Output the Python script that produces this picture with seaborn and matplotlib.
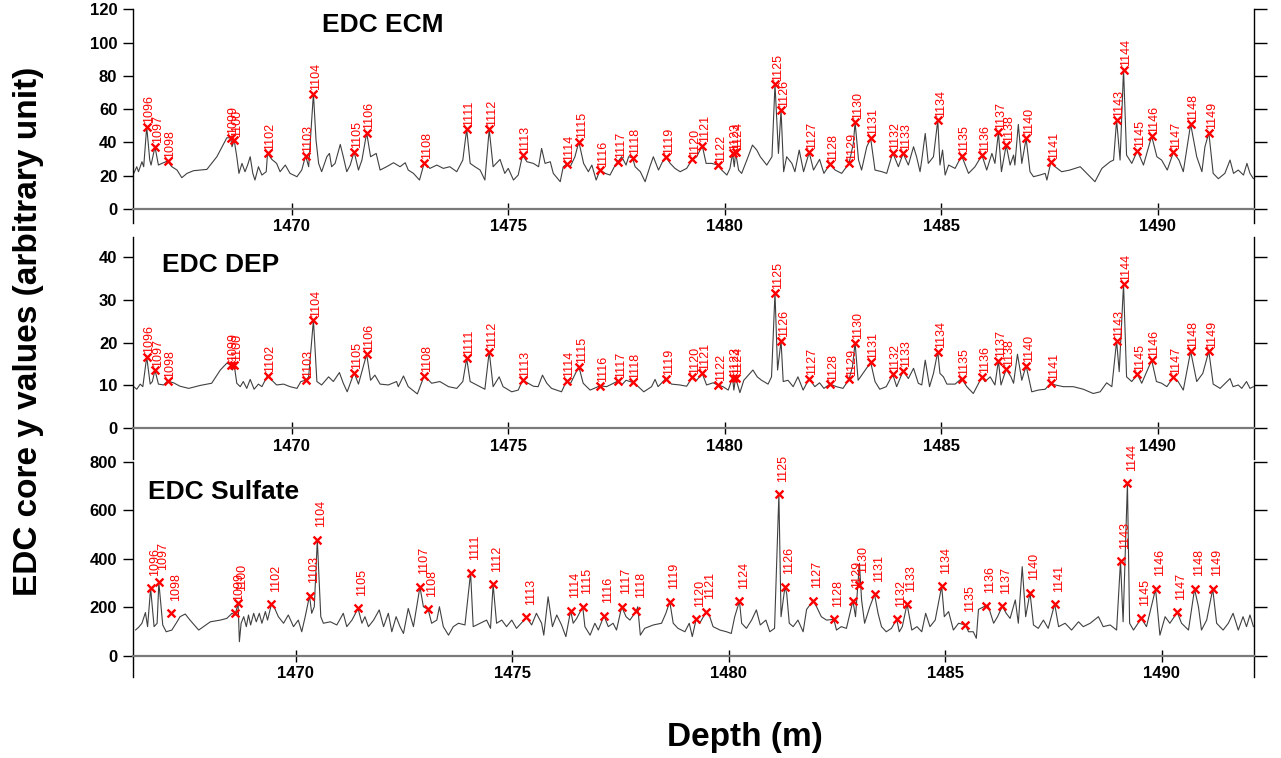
import numpy as np
import pandas as pd
import matplotlib
matplotlib.use('Agg')
import matplotlib.pyplot as plt
import seaborn as sns

nan = np.nan

# volcanic events picked in the three records (shared depths, m)
event_id = [1096, 1097, 1098, 1099, 1100, 1102, 1103, 1104, 1105, 1106,
            1107, 1108, 1111, 1112, 1113, 1114, 1115, 1116, 1117, 1118,
            1119, 1120, 1121, 1122, 1123, 1124, 1125, 1126, 1127, 1128,
            1129, 1130, 1131, 1132, 1133, 1134, 1135, 1136, 1137, 1138,
            1140, 1141, 1143, 1144, 1145, 1146, 1147, 1148, 1149]
event_depth = [1466.65, 1466.84, 1467.13, 1468.59, 1468.67, 1469.44, 1470.32, 1470.50, 1471.44, 1471.73,
               1472.87, 1473.06, 1474.04, 1474.56, 1475.33, 1476.35, 1476.63, 1477.12, 1477.53, 1477.87,
               1478.64, 1479.25, 1479.48, 1479.84, 1480.18, 1480.25, 1481.16, 1481.30, 1481.95, 1482.43,
               1482.87, 1483.01, 1483.37, 1483.88, 1484.12, 1484.92, 1485.47, 1485.94, 1486.32, 1486.50,
               1486.96, 1487.53, 1489.05, 1489.21, 1489.53, 1489.86, 1490.36, 1490.76, 1491.18]
ecm_peak = [49.4, 37.4, 28.8, 42.8, 41.4, 33.4, 32.0, 69.4, 34.4, 45.8,
            nan, 27.8, 48.0, 47.8, 32.4, 27.0, 40.4, 23.4, 28.4, 30.8,
            31.2, 29.8, 38.0, 26.4, 33.4, 34.0, 75.0, 59.4, 34.0, 27.0,
            27.4, 52.0, 42.4, 33.8, 33.4, 53.4, 32.0, 32.4, 46.0, 38.4,
            42.4, 28.0, 53.4, 83.8, 35.0, 43.8, 34.0, 51.0, 45.8]
dep_peak = [16.7, 13.6, 11.0, 14.8, 14.8, 12.3, 11.2, 25.3, 13.0, 17.3,
            nan, 12.3, 16.3, 17.9, 11.2, 11.1, 14.4, 9.9, 11.0, 10.7,
            11.6, 11.9, 12.8, 10.1, 11.8, 11.8, 31.7, 20.4, 11.6, 10.3,
            11.4, 20.0, 15.4, 12.6, 13.4, 17.9, 11.6, 12.0, 15.8, 13.8,
            14.6, 10.5, 20.4, 33.7, 12.6, 15.9, 11.9, 18.0, 18.0]
so4_peak = [279, 303, 176, 176, 217, 213, 248, 478, 196, nan,
            285, 192, 343, 295, 159, 187, 203, 166, 203, 187,
            224, 152, 182, nan, nan, 226, 666, 285, 228, 151,
            228, 292, 254, 152, 214, 288, 128, 207, 205, nan,
            261, 214, 391, 711, 155, 276, 180, 276, 276]

# EDC ECM trace
ecm_depth = [1466.35, 1466.42, 1466.46, 1466.54, 1466.58, 1466.65, 1466.72, 1466.75, 1466.84, 1466.92,
             1467.00, 1467.13, 1467.23, 1467.35, 1467.46, 1467.58, 1467.73, 1468.04, 1468.27, 1468.50,
             1468.59, 1468.62, 1468.67, 1468.73, 1468.78, 1468.85, 1468.92, 1468.98, 1469.04, 1469.10,
             1469.15, 1469.23, 1469.31, 1469.41, 1469.44, 1469.54, 1469.65, 1469.73, 1469.85, 1469.96,
             1470.12, 1470.23, 1470.32, 1470.39, 1470.50, 1470.56, 1470.62, 1470.69, 1470.81, 1470.87,
             1470.92, 1471.00, 1471.12, 1471.19, 1471.27, 1471.35, 1471.44, 1471.54, 1471.62, 1471.73,
             1471.82, 1471.95, 1472.04, 1472.19, 1472.35, 1472.50, 1472.62, 1472.69, 1472.81, 1472.95,
             1473.06, 1473.19, 1473.35, 1473.50, 1473.65, 1473.81, 1473.95, 1474.04, 1474.12, 1474.23,
             1474.35, 1474.46, 1474.56, 1474.65, 1474.81, 1474.92, 1475.00, 1475.12, 1475.23, 1475.33,
             1475.43, 1475.58, 1475.70, 1475.77, 1475.85, 1475.97, 1476.04, 1476.20, 1476.27, 1476.35,
             1476.43, 1476.54, 1476.63, 1476.74, 1476.85, 1476.93, 1477.03, 1477.12, 1477.24, 1477.35,
             1477.47, 1477.53, 1477.62, 1477.72, 1477.78, 1477.87, 1477.93, 1478.05, 1478.16, 1478.27,
             1478.35, 1478.47, 1478.58, 1478.64, 1478.74, 1478.85, 1478.97, 1479.12, 1479.25, 1479.35,
             1479.48, 1479.57, 1479.70, 1479.84, 1479.93, 1480.05, 1480.12, 1480.18, 1480.22, 1480.25,
             1480.32, 1480.39, 1480.51, 1480.64, 1480.74, 1480.82, 1480.97, 1481.09, 1481.16, 1481.24,
             1481.30, 1481.36, 1481.43, 1481.55, 1481.62, 1481.72, 1481.82, 1481.95, 1482.05, 1482.19,
             1482.29, 1482.43, 1482.55, 1482.70, 1482.87, 1482.97, 1483.01, 1483.09, 1483.16, 1483.28,
             1483.37, 1483.47, 1483.63, 1483.74, 1483.88, 1484.01, 1484.12, 1484.24, 1484.36, 1484.43,
             1484.51, 1484.55, 1484.63, 1484.70, 1484.82, 1484.92, 1484.97, 1485.03, 1485.09, 1485.17,
             1485.32, 1485.47, 1485.63, 1485.78, 1485.94, 1486.05, 1486.17, 1486.24, 1486.32, 1486.39,
             1486.50, 1486.59, 1486.67, 1486.70, 1486.78, 1486.86, 1486.96, 1487.05, 1487.13, 1487.28,
             1487.40, 1487.44, 1487.53, 1487.63, 1487.78, 1487.97, 1488.21, 1488.36, 1488.55, 1488.71,
             1488.90, 1488.98, 1489.05, 1489.13, 1489.21, 1489.28, 1489.40, 1489.53, 1489.67, 1489.86,
             1489.98, 1490.09, 1490.22, 1490.36, 1490.49, 1490.59, 1490.76, 1490.90, 1491.02, 1491.09,
             1491.18, 1491.28, 1491.40, 1491.55, 1491.67, 1491.75, 1491.86, 1491.98, 1492.06, 1492.13, 1492.21]
ecm_value = [21.4, 25.4, 22.4, 28.4, 25.4, 49.4, 29.4, 26.4, 37.4, 26.4,
             27.4, 28.8, 25.4, 23.4, 18.8, 21.4, 23.0, 23.8, 31.4, 42.8,
             42.8, 37.4, 41.4, 31.4, 21.4, 27.4, 22.4, 26.4, 31.4, 21.4,
             17.4, 25.4, 20.4, 22.4, 33.4, 29.8, 27.4, 22.4, 26.4, 21.4,
             19.4, 23.4, 32.0, 25.4, 69.4, 41.4, 27.4, 22.4, 31.4, 33.4,
             25.4, 27.4, 38.8, 31.4, 22.4, 26.4, 34.4, 23.4, 29.4, 45.8,
             31.4, 33.4, 23.4, 25.4, 27.8, 25.4, 27.8, 23.4, 21.4, 17.4,
             27.8, 24.4, 26.4, 24.4, 25.4, 22.4, 29.4, 48.0, 27.4, 25.4,
             23.4, 17.4, 47.8, 25.4, 29.8, 21.4, 24.4, 17.4, 20.4, 32.4,
             28.4, 27.4, 25.4, 36.4, 27.4, 28.4, 21.4, 16.4, 25.4, 27.0,
             25.4, 31.4, 40.4, 27.4, 22.4, 26.4, 17.4, 23.4, 21.4, 20.4,
             26.4, 28.4, 31.4, 26.4, 31.4, 30.8, 25.4, 22.4, 16.4, 25.4,
             31.4, 23.4, 29.4, 31.2, 27.4, 24.4, 22.4, 24.4, 29.8, 31.4,
             38.0, 27.4, 27.4, 26.4, 23.4, 20.4, 24.4, 33.4, 25.4, 34.0,
             23.4, 21.4, 29.4, 38.4, 35.4, 31.4, 26.4, 31.4, 75.0, 33.4,
             59.4, 22.4, 31.4, 27.4, 22.4, 35.4, 22.4, 34.0, 23.4, 29.8,
             21.4, 27.0, 23.4, 21.4, 27.4, 39.4, 52.0, 29.4, 23.4, 37.4,
             42.4, 23.4, 22.4, 21.4, 33.8, 25.4, 33.4, 26.4, 37.4, 31.4,
             22.4, 29.4, 45.4, 27.4, 31.4, 53.4, 26.4, 35.4, 20.4, 26.4,
             24.4, 32.0, 21.4, 25.4, 32.4, 23.4, 33.4, 27.4, 46.0, 22.4,
             38.4, 26.4, 32.4, 26.4, 50.8, 27.4, 42.4, 22.4, 19.4, 20.4,
             21.4, 17.4, 28.0, 25.4, 22.4, 23.4, 25.4, 21.4, 16.4, 24.4,
             28.4, 29.4, 53.4, 29.4, 83.8, 32.4, 27.4, 35.0, 26.4, 43.8,
             31.4, 29.4, 23.4, 34.0, 29.4, 22.4, 51.0, 31.4, 22.4, 37.4,
             45.8, 21.4, 18.2, 21.4, 29.4, 21.4, 23.4, 20.4, 27.4, 21.4, 18.2]

# EDC DEP trace
dep_depth = [1466.35, 1466.42, 1466.50, 1466.56, 1466.65, 1466.73, 1466.78, 1466.84, 1466.92, 1467.04,
             1467.13, 1467.27, 1467.42, 1467.62, 1467.89, 1468.15, 1468.35, 1468.50, 1468.59, 1468.63,
             1468.67, 1468.73, 1468.81, 1468.88, 1468.96, 1469.04, 1469.13, 1469.23, 1469.31, 1469.44,
             1469.54, 1469.65, 1469.81, 1469.96, 1470.12, 1470.21, 1470.32, 1470.39, 1470.50, 1470.58,
             1470.69, 1470.85, 1470.96, 1471.10, 1471.19, 1471.28, 1471.44, 1471.54, 1471.73, 1471.82,
             1471.92, 1472.04, 1472.23, 1472.42, 1472.46, 1472.58, 1472.69, 1472.90, 1473.06, 1473.23,
             1473.42, 1473.62, 1473.81, 1473.95, 1474.04, 1474.12, 1474.27, 1474.46, 1474.56, 1474.65,
             1474.79, 1474.88, 1475.08, 1475.23, 1475.33, 1475.46, 1475.58, 1475.69, 1475.79, 1475.89,
             1476.00, 1476.23, 1476.35, 1476.42, 1476.63, 1476.73, 1476.89, 1477.12, 1477.27, 1477.53,
             1477.62, 1477.72, 1477.87, 1477.96, 1478.13, 1478.31, 1478.39, 1478.46, 1478.64, 1478.77,
             1478.96, 1479.12, 1479.25, 1479.35, 1479.48, 1479.58, 1479.73, 1479.84, 1479.96, 1480.08,
             1480.18, 1480.21, 1480.25, 1480.35, 1480.44, 1480.58, 1480.65, 1480.75, 1480.85, 1481.00,
             1481.08, 1481.16, 1481.22, 1481.30, 1481.35, 1481.46, 1481.58, 1481.69, 1481.81, 1481.95,
             1482.08, 1482.19, 1482.29, 1482.43, 1482.58, 1482.73, 1482.87, 1482.95, 1483.01, 1483.08,
             1483.19, 1483.37, 1483.47, 1483.58, 1483.73, 1483.88, 1483.97, 1484.12, 1484.24, 1484.36,
             1484.47, 1484.55, 1484.63, 1484.73, 1484.82, 1484.92, 1484.97, 1485.05, 1485.13, 1485.32,
             1485.47, 1485.59, 1485.74, 1485.94, 1486.01, 1486.13, 1486.24, 1486.32, 1486.38, 1486.50,
             1486.61, 1486.67, 1486.76, 1486.86, 1486.96, 1487.09, 1487.24, 1487.40, 1487.53, 1487.63,
             1487.82, 1488.05, 1488.28, 1488.51, 1488.67, 1488.82, 1488.94, 1489.05, 1489.11, 1489.21,
             1489.28, 1489.40, 1489.53, 1489.63, 1489.86, 1489.97, 1490.09, 1490.21, 1490.36, 1490.47,
             1490.59, 1490.76, 1490.90, 1491.04, 1491.18, 1491.28, 1491.44, 1491.67, 1491.74, 1491.86,
             1491.94, 1492.05, 1492.13, 1492.21]
dep_value = [9.7, 9.1, 10.3, 9.7, 16.7, 10.3, 10.9, 13.6, 10.3, 10.1,
             11.0, 10.6, 9.8, 9.3, 10.0, 10.5, 13.6, 15.2, 14.8, 13.6,
             14.8, 10.5, 9.7, 10.9, 9.3, 11.4, 9.1, 10.3, 9.7, 12.3,
             11.2, 10.1, 10.3, 9.7, 9.3, 10.9, 11.2, 12.0, 25.3, 10.9,
             10.1, 12.0, 10.9, 13.0, 10.5, 8.5, 13.0, 10.3, 17.3, 11.2,
             12.4, 10.3, 10.1, 10.9, 9.7, 12.2, 9.7, 8.0, 12.3, 10.5,
             10.9, 9.7, 9.3, 10.9, 16.3, 10.9, 10.1, 9.1, 17.9, 9.7,
             12.0, 9.7, 8.5, 8.9, 11.2, 10.5, 9.8, 9.7, 12.4, 10.5,
             9.3, 8.5, 11.1, 10.1, 14.4, 10.5, 8.9, 9.9, 9.7, 11.0,
             10.1, 11.2, 10.7, 10.1, 8.5, 9.7, 11.4, 9.7, 11.6, 10.3,
             10.1, 9.8, 11.9, 11.2, 12.8, 10.1, 10.6, 10.1, 9.7, 8.9,
             11.8, 8.9, 11.8, 8.3, 11.2, 12.8, 13.6, 12.0, 11.2, 10.3,
             12.0, 31.7, 13.6, 20.4, 10.9, 11.2, 9.7, 12.0, 8.9, 11.6,
             9.7, 10.6, 9.3, 10.3, 9.7, 9.3, 11.4, 14.4, 20.0, 11.2,
             12.8, 15.4, 10.9, 9.1, 9.7, 12.6, 9.7, 13.4, 11.6, 14.0,
             10.5, 10.1, 15.9, 9.7, 12.8, 17.9, 12.8, 12.0, 10.3, 10.3,
             11.6, 9.7, 8.1, 12.0, 10.9, 12.0, 10.1, 15.8, 10.1, 13.8,
             12.0, 10.5, 17.3, 11.2, 14.6, 8.5, 8.9, 9.1, 10.5, 10.1,
             9.7, 9.7, 9.1, 8.1, 8.5, 10.6, 9.7, 20.4, 13.2, 33.7,
             12.0, 10.9, 12.6, 10.5, 15.9, 10.9, 10.5, 9.7, 11.9, 10.9,
             8.9, 18.0, 10.9, 12.8, 18.0, 10.3, 9.3, 11.6, 9.7, 10.1,
             9.3, 10.9, 9.3, 9.7]

# EDC sulfate trace
so4_depth = [1466.30, 1466.37, 1466.45, 1466.53, 1466.58, 1466.65, 1466.73, 1466.80, 1466.84, 1466.93,
             1467.01, 1467.14, 1467.26, 1467.33, 1467.45, 1467.56, 1467.76, 1468.03, 1468.26, 1468.41,
             1468.53, 1468.60, 1468.67, 1468.70, 1468.74, 1468.80, 1468.86, 1468.91, 1468.96, 1469.03,
             1469.09, 1469.16, 1469.22, 1469.30, 1469.35, 1469.44, 1469.50, 1469.60, 1469.72, 1469.83,
             1469.95, 1470.06, 1470.14, 1470.22, 1470.32, 1470.37, 1470.43, 1470.50, 1470.58, 1470.64,
             1470.80, 1470.95, 1471.10, 1471.18, 1471.30, 1471.44, 1471.53, 1471.60, 1471.68, 1471.80,
             1471.93, 1472.03, 1472.14, 1472.22, 1472.32, 1472.41, 1472.49, 1472.60, 1472.72, 1472.87,
             1472.95, 1473.06, 1473.14, 1473.26, 1473.32, 1473.41, 1473.53, 1473.64, 1473.76, 1473.91,
             1474.04, 1474.10, 1474.26, 1474.41, 1474.50, 1474.56, 1474.64, 1474.76, 1474.87, 1474.99,
             1475.10, 1475.33, 1475.45, 1475.56, 1475.68, 1475.73, 1475.83, 1475.93, 1476.03, 1476.14,
             1476.24, 1476.35, 1476.41, 1476.49, 1476.63, 1476.68, 1476.80, 1476.91, 1476.99, 1477.12,
             1477.22, 1477.33, 1477.41, 1477.53, 1477.63, 1477.72, 1477.87, 1477.90, 1477.96, 1478.06,
             1478.26, 1478.45, 1478.55, 1478.64, 1478.72, 1478.83, 1478.99, 1479.09, 1479.16, 1479.25,
             1479.33, 1479.48, 1479.55, 1479.64, 1479.80, 1479.95, 1480.06, 1480.14, 1480.25, 1480.30,
             1480.41, 1480.53, 1480.64, 1480.73, 1480.86, 1480.95, 1481.06, 1481.16, 1481.21, 1481.30,
             1481.34, 1481.40, 1481.49, 1481.60, 1481.72, 1481.80, 1481.95, 1482.03, 1482.14, 1482.26,
             1482.43, 1482.49, 1482.60, 1482.72, 1482.87, 1482.93, 1483.02, 1483.07, 1483.14, 1483.26,
             1483.37, 1483.45, 1483.53, 1483.64, 1483.76, 1483.88, 1483.94, 1484.01, 1484.12, 1484.23,
             1484.35, 1484.46, 1484.55, 1484.65, 1484.77, 1484.92, 1484.98, 1485.08, 1485.19, 1485.31,
             1485.47, 1485.54, 1485.65, 1485.72, 1485.77, 1485.94, 1486.00, 1486.12, 1486.21, 1486.32,
             1486.41, 1486.50, 1486.62, 1486.69, 1486.78, 1486.86, 1486.96, 1487.04, 1487.15, 1487.27,
             1487.38, 1487.53, 1487.62, 1487.77, 1487.92, 1488.08, 1488.19, 1488.35, 1488.54, 1488.65,
             1488.81, 1488.96, 1489.05, 1489.11, 1489.21, 1489.26, 1489.35, 1489.53, 1489.65, 1489.86,
             1489.96, 1490.08, 1490.19, 1490.36, 1490.46, 1490.62, 1490.76, 1490.85, 1490.92, 1491.04,
             1491.18, 1491.27, 1491.42, 1491.54, 1491.65, 1491.77, 1491.88, 1491.96, 1492.04, 1492.12]
so4_value = [107, 118, 135, 179, 121, 279, 121, 135, 303, 128,
             100, 107, 141, 162, 173, 148, 107, 141, 148, 155,
             176, 169, 217, 59, 135, 162, 121, 169, 128, 176,
             141, 176, 135, 183, 148, 213, 203, 162, 135, 169,
             121, 148, 100, 162, 248, 176, 203, 478, 162, 135,
             141, 128, 176, 121, 148, 196, 135, 162, 121, 148,
             190, 121, 176, 100, 162, 121, 93, 196, 121, 285,
             203, 192, 135, 148, 203, 121, 86, 121, 135, 128,
             343, 121, 135, 148, 114, 295, 135, 148, 121, 148,
             114, 159, 128, 176, 135, 86, 244, 121, 169, 128,
             80, 187, 135, 155, 203, 121, 86, 135, 107, 166,
             121, 135, 107, 203, 162, 148, 187, 203, 86, 114,
             128, 135, 176, 224, 135, 114, 100, 135, 80, 152,
             135, 182, 169, 121, 107, 100, 93, 162, 226, 135,
             114, 148, 190, 128, 148, 100, 114, 666, 162, 285,
             258, 135, 121, 148, 100, 192, 228, 203, 162, 148,
             151, 107, 121, 114, 228, 162, 382, 231, 135, 203,
             254, 176, 121, 100, 114, 152, 100, 121, 214, 107,
             121, 100, 176, 121, 148, 288, 162, 183, 107, 135,
             128, 100, 100, 73, 192, 207, 203, 135, 162, 205,
             176, 155, 231, 135, 368, 162, 261, 128, 114, 148,
             114, 214, 121, 135, 107, 141, 121, 135, 162, 121,
             128, 107, 391, 141, 711, 135, 107, 155, 121, 276,
             86, 162, 135, 180, 135, 107, 276, 203, 107, 148,
             276, 135, 107, 135, 176, 107, 162, 121, 169, 121]

panels = [
    dict(name='EDC ECM', depth=ecm_depth, value=ecm_value, peak=ecm_peak,
         ylim=(-8.6, 120), yticks=[0, 20, 40, 60, 80, 100, 120], xlim=(1466.34, 1492.23),
         box=(223.3, 9.3), title_xy=(322, 32.3), lab_off=(2.0, 2.5)),
    dict(name='EDC DEP', depth=dep_depth, value=dep_value, peak=dep_peak,
         ylim=(-7.3, 44.8), yticks=[0, 10, 20, 30, 40], xlim=(1466.34, 1492.23),
         box=(459.3, 236.7), title_xy=(161.7, 271.7), lab_off=(2.0, 2.5)),
    dict(name='EDC Sulfate', depth=so4_depth, value=so4_value, peak=so4_peak,
         ylim=(-85, 800), yticks=[0, 200, 400, 600, 800], xlim=(1466.25, 1492.14),
         box=(676.7, 461.7), title_xy=(148.3, 499.3), lab_off=(3.0, 9.0)),
]

sns.set_style('ticks')
plt.rcParams['font.family'] = ['Liberation Sans', 'DejaVu Sans']
plt.rcParams['font.weight'] = 'bold'
plt.rcParams['text.color'] = 'black'
plt.rcParams['axes.labelcolor'] = 'black'
plt.rcParams['xtick.color'] = 'black'
plt.rcParams['ytick.color'] = 'black'

W, H = 1281, 758
fig = plt.figure(figsize=(W / 100, H / 100), dpi=100)

for p in panels:
    bot, top = p['box']
    ax = fig.add_axes([133.3 / W, 1 - bot / H, 1121 / W, (bot - top) / H])
    trace = pd.DataFrame({'depth': p['depth'], 'value': p['value']})
    sns.lineplot(data=trace, x='depth', y='value', ax=ax, color='#404040',
                 linewidth=0.8, sort=False, estimator=None)
    picks = pd.DataFrame({'depth': event_depth, 'value': p['peak'], 'id': event_id}).dropna()
    sns.scatterplot(data=picks, x='depth', y='value', ax=ax, marker='x', color='red',
                    s=32, linewidth=1.7, zorder=5)
    dx, dy = p['lab_off']
    for d, v, n in zip(picks['depth'], picks['value'], picks['id']):
        ax.annotate(str(n), (d, v), xytext=(dx, dy), textcoords='offset points',
                    rotation=90, ha='center', va='bottom', color='red',
                    fontsize=9, fontweight='normal', zorder=6)

    ax.set_xlim(*p['xlim'])
    ax.set_ylim(*p['ylim'])
    ax.set_xticks([1470, 1475, 1480, 1485, 1490])
    ax.set_yticks(p['yticks'])
    ax.set_xlabel('')
    ax.set_ylabel('')

    ax.spines['top'].set_visible(False)
    ax.spines['bottom'].set_position(('data', 0))
    ax.spines['bottom'].set_color('#7a7a7a')
    ax.spines['bottom'].set_linewidth(1.6)
    for side in ['left', 'right']:
        ax.spines[side].set_visible(True)
        ax.spines[side].set_color('black')
        ax.spines[side].set_linewidth(1.0)

    ax.tick_params(axis='x', direction='inout', length=9, width=1.0, pad=3,
                   labelsize=12, colors='black')
    ax.tick_params(axis='y', direction='out', length=7.5, width=1.0, pad=4,
                   labelsize=12, left=True, right=True, labelright=False, colors='black')
    for t in ax.yaxis.get_major_ticks():
        t.tick2line.set_markersize(9)

    tx, ty = p['title_xy']
    fig.text(tx / W, 1 - ty / H, p['name'], fontsize=19, fontweight='bold',
             ha='left', va='baseline', color='black')

fig.text(28.5 / W, 1 - 331 / H, 'EDC core y values (arbitrary unit)', rotation=90,
         ha='center', va='center', fontsize=24, fontweight='bold', color='black')
fig.text(745 / W, 1 - 746 / H, 'Depth (m)', ha='center', va='baseline',
         fontsize=24, fontweight='bold', color='black')

fig.savefig('out.png', dpi=100)
